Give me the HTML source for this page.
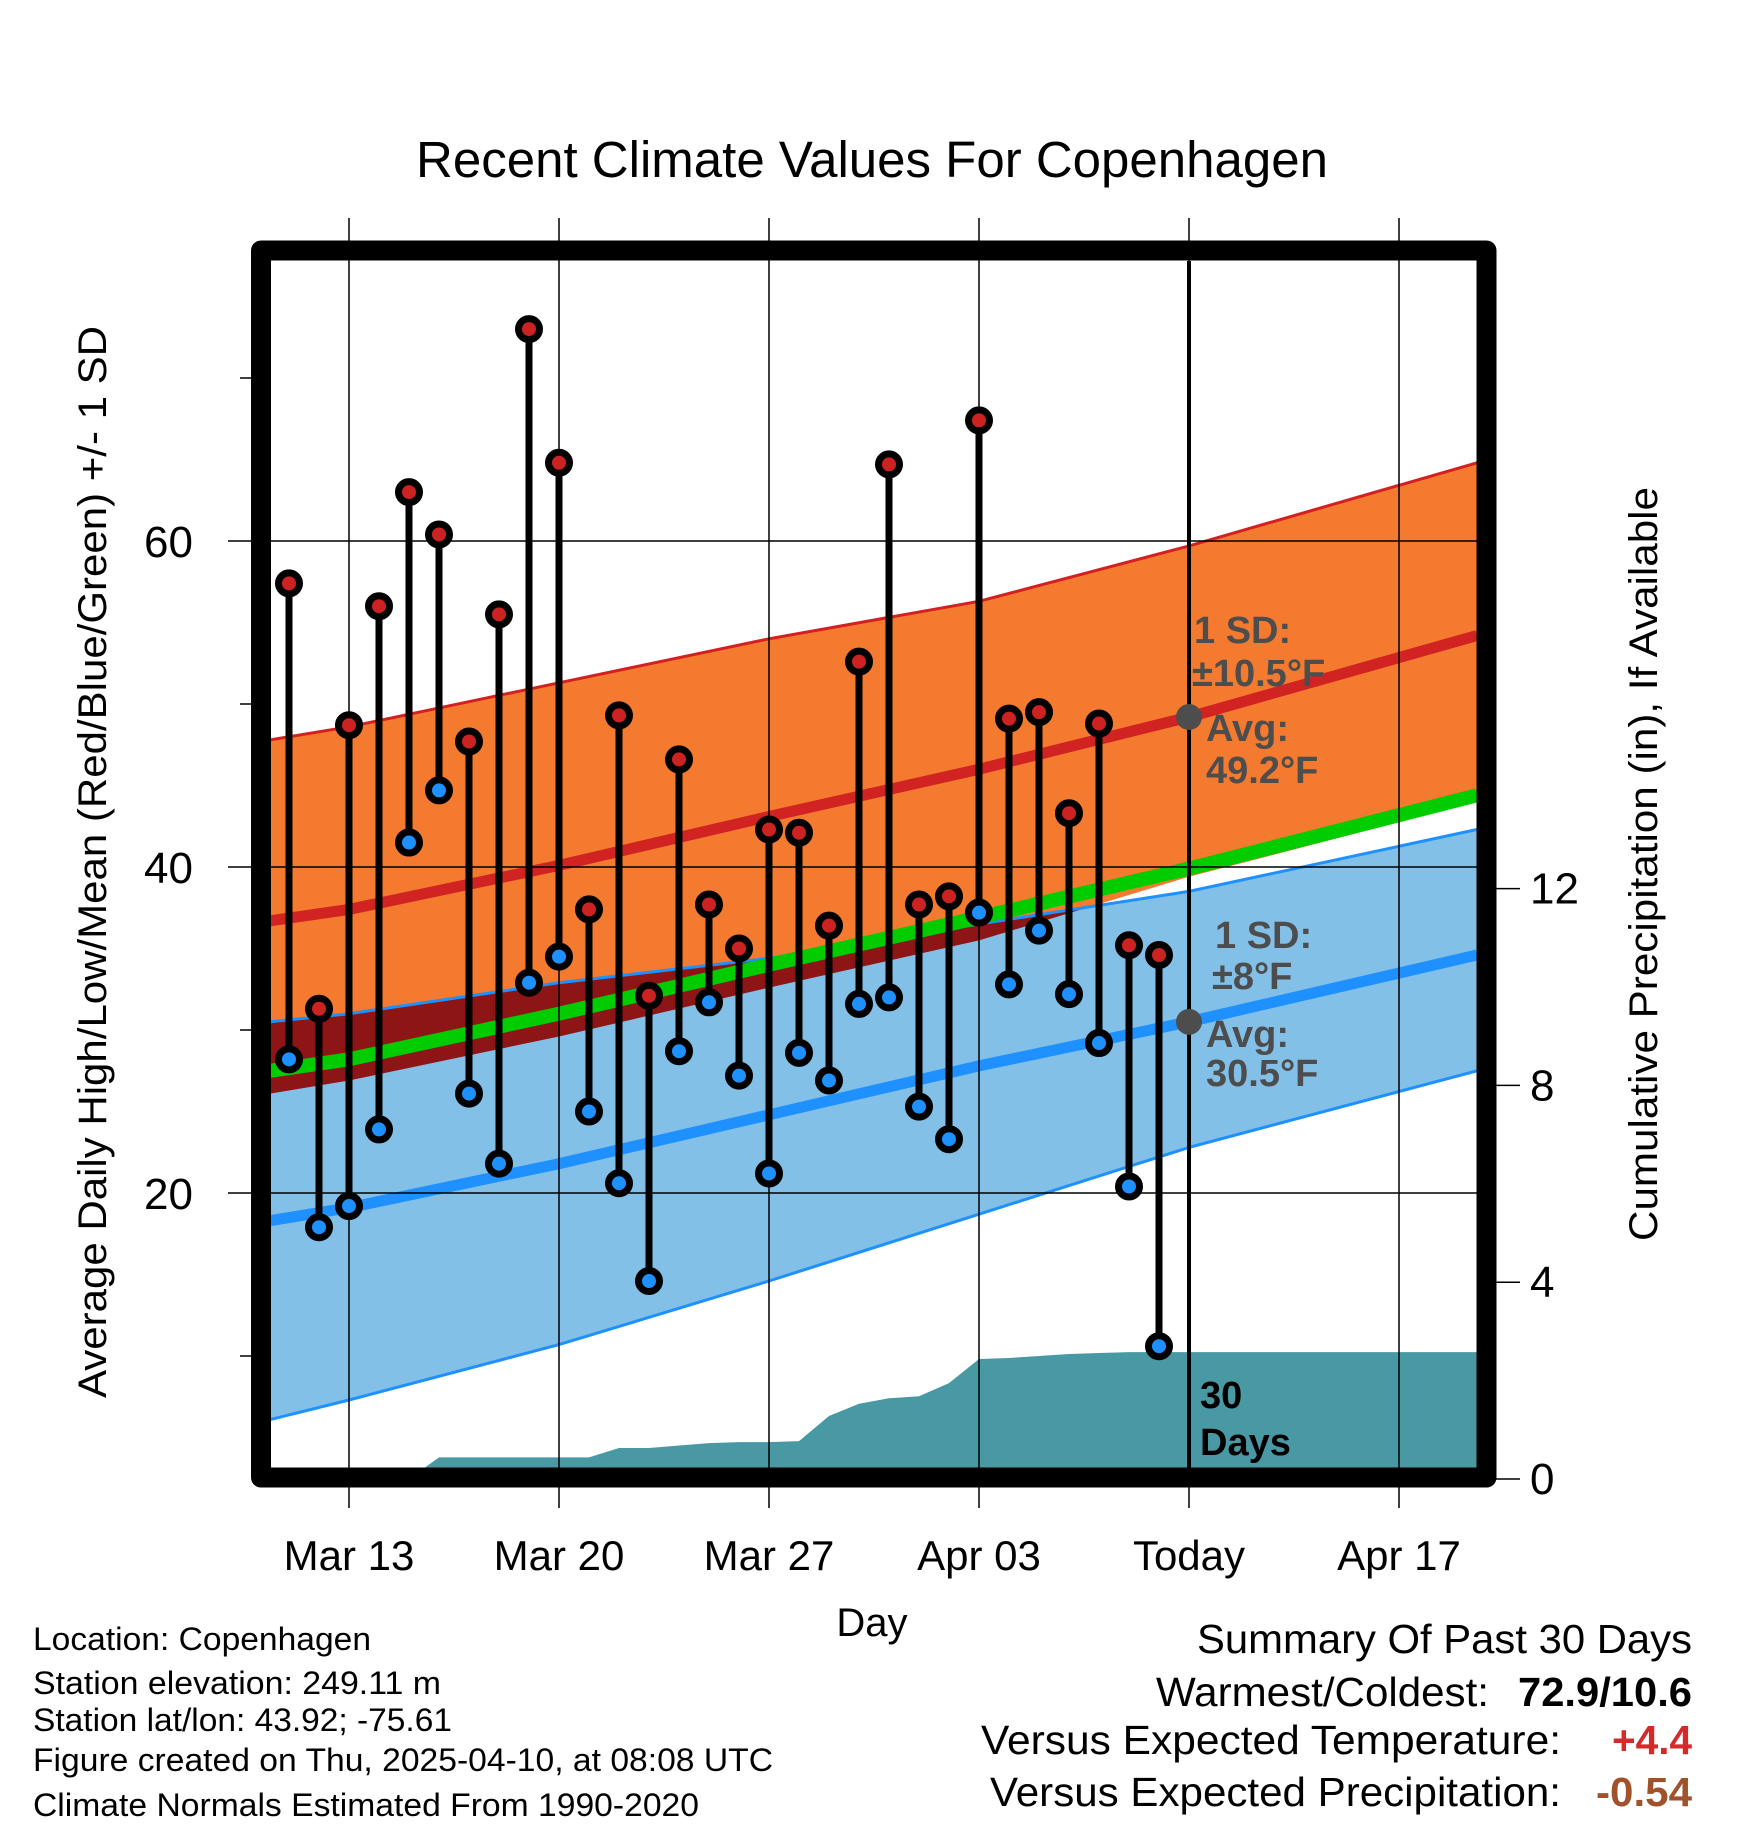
<!DOCTYPE html>
<html><head><meta charset="utf-8"><style>
html,body{margin:0;padding:0;background:#fff;}
svg{display:block;font-family:"Liberation Sans",Arial,sans-serif;}
</style></head><body>
<svg id="chart" width="1748" height="1828" viewBox="0 0 1748 1828" xmlns="http://www.w3.org/2000/svg">
<defs>
<clipPath id="plotClip"><rect x="270" y="261" width="1207" height="1207"/></clipPath>
<clipPath id="blueClip"><path id="blueClipPath" d=""/></clipPath>
</defs>
<g id="plot" clip-path="url(#plotClip)"></g>
<g id="axes"></g>
<text x="872" y="177" font-size="51" text-anchor="middle">Recent Climate Values For Copenhagen</text>
<text x="0" y="0" font-size="40" text-anchor="middle" transform="translate(106,862) rotate(-90)" textLength="1072" lengthAdjust="spacingAndGlyphs">Average Daily High/Low/Mean (Red/Blue/Green) +/- 1 SD</text>
<text x="0" y="0" font-size="40" text-anchor="middle" transform="translate(1657,864) rotate(-90)" textLength="754" lengthAdjust="spacingAndGlyphs">Cumulative Precipitation (in), If Available</text>
<text x="872" y="1636" font-size="40" text-anchor="middle">Day</text>
<g font-size="32">
<text x="33" y="1650" textLength="338" lengthAdjust="spacingAndGlyphs">Location: Copenhagen</text>
<text x="33" y="1694" textLength="408" lengthAdjust="spacingAndGlyphs">Station elevation: 249.11 m</text>
<text x="33" y="1731" textLength="419" lengthAdjust="spacingAndGlyphs">Station lat/lon: 43.92; -75.61</text>
<text x="33" y="1771" textLength="740" lengthAdjust="spacingAndGlyphs">Figure created on Thu, 2025-04-10, at 08:08 UTC</text>
<text x="33" y="1816" textLength="666" lengthAdjust="spacingAndGlyphs">Climate Normals Estimated From 1990-2020</text>
</g>
<g font-size="41">
<text x="1197" y="1653" textLength="495" lengthAdjust="spacingAndGlyphs">Summary Of Past 30 Days</text>
<text x="1156" y="1706" textLength="333" lengthAdjust="spacingAndGlyphs">Warmest/Coldest:</text>
<text x="1518" y="1706" font-weight="bold" textLength="174" lengthAdjust="spacingAndGlyphs">72.9/10.6</text>
<text x="981" y="1754" textLength="580" lengthAdjust="spacingAndGlyphs">Versus Expected Temperature:</text>
<text x="1612" y="1754" font-weight="bold" fill="#d42a2a" textLength="80" lengthAdjust="spacingAndGlyphs">+4.4</text>
<text x="990" y="1806" textLength="571" lengthAdjust="spacingAndGlyphs">Versus Expected Precipitation:</text>
<text x="1596" y="1806" font-weight="bold" fill="#a0522d" textLength="96" lengthAdjust="spacingAndGlyphs">-0.54</text>
</g>
<script>
// ---- data ----
const days = [-2,-1,0,1,2,3,4,5,6,7,8,9,10,11,12,13,14,15,16,17,18,19,20,21,22,23,24,25,26,27];
const highs = [57.4,31.3,48.7,56.0,63.0,60.4,47.7,55.5,73.0,64.8,37.4,49.3,32.1,46.6,37.7,35.0,42.3,42.1,36.4,52.6,64.7,37.7,38.2,67.4,49.1,49.5,43.3,48.8,35.2,34.6];
const lows = [28.2,17.9,19.2,23.9,41.5,44.7,26.1,21.8,32.9,34.5,25.0,20.6,14.6,28.7,31.7,27.2,21.2,28.6,26.9,31.6,32.0,25.3,23.3,37.2,32.8,36.1,32.2,29.2,20.4,10.6];
const precip = [0,0,0,0,0,0.44,0.44,0.44,0.44,0.44,0.44,0.63,0.63,0.68,0.73,0.75,0.75,0.77,1.28,1.53,1.64,1.68,1.95,2.44,2.46,2.50,2.54,2.56,2.58,2.58];
const normDays = [-2.63,0,7,14,21,28,37.6];
const hiAvg = [36.7,37.4,40.1,43.1,46.0,49.2,54.2];
const hiUp = [47.8,48.6,51.3,54.0,56.3,59.7,64.8];
const hiLo = [26.1,26.9,29.6,32.6,35.5,39.4,44.0];
const meanAvg = [27.5,28.2,31.0,34.0,36.9,39.9,44.4];
const loAvg = [18.3,19.1,21.8,24.8,27.8,30.5,34.6];
const loUp = [30.5,31.0,32.9,34.4,36.5,38.5,42.3];
const loLo = [6.1,7.3,10.7,14.6,18.7,22.8,27.5];
const xTickDays = [0,7,14,21,28,35];
const xTickLabels = ["Mar 13","Mar 20","Mar 27","Apr 03","Today","Apr 17"];
const yTicks = [20,40,60];
const yMinor = [10,30,50,70];
const pTicks = [0,4,8,12];
const todayDay = 28;

// ---- scales ----
const X0=270,X1=1477;
const xS = d => 349 + 30*d;
const yT = t => 1519 - 16.3*t;
const yP = p => 1479 - 49.2*p;
const NS='http://www.w3.org/2000/svg';
function mk(tag, attrs, parent){const e=document.createElementNS(NS,tag);for(const k in attrs)e.setAttribute(k,attrs[k]);parent.appendChild(e);return e;}
const plot=document.getElementById('plot');
const axes=document.getElementById('axes');
const line = arr => arr.map((v,i)=>(i?'L':'M')+xS(normDays[i]).toFixed(1)+','+yT(v).toFixed(1)).join('');
const band = (up,lo) => line(up)+lo.slice().reverse().map((v,j)=>{const i=lo.length-1-j;return 'L'+xS(normDays[i]).toFixed(1)+','+yT(v).toFixed(1);}).join('')+'Z';

let e;
e=mk('path',{d:band(hiUp,hiLo),fill:'#f47a30'},plot);


e=mk('path',{d:band(loUp,loLo),fill:'#82c0e8'},plot);


document.getElementById('blueClipPath').setAttribute('d',band(loUp,loLo));
e=mk('path',{d:band(hiUp,hiLo),fill:'#8e1515','clip-path':'url(#blueClip)'},plot);


e=mk('path',{d:line(hiUp),fill:'none',stroke:'#d42020','stroke-width':3},plot);


e=mk('path',{d:line(loUp),fill:'none',stroke:'#1e90ff','stroke-width':3},plot);


e=mk('path',{d:line(loLo),fill:'none',stroke:'#1e90ff','stroke-width':3},plot);


e=mk('path',{d:line(meanAvg),fill:'none',stroke:'#00cc00','stroke-width':14},plot);


e=mk('path',{d:line(hiAvg),fill:'none',stroke:'#d22323','stroke-width':11},plot);


e=mk('path',{d:line(loAvg),fill:'none',stroke:'#1e90ff','stroke-width':11},plot);



// precip area
let pd='M'+xS(days[0])+','+yP(0);
days.forEach((d,i)=>{pd+='L'+xS(d).toFixed(1)+','+yP(precip[i]).toFixed(1);});
pd+='L'+X1+','+yP(precip[precip.length-1]).toFixed(1)+'L'+X1+','+yP(0)+'Z';
e=mk('path',{d:pd,fill:'#4899a4'},plot);



// gridlines
yTicks.forEach(t=>{
  const g=mk('line',{x1:228,x2:X1,y1:yT(t),y2:yT(t),stroke:'#000','stroke-width':1.5},axes);
  
  
  const l=mk('text',{x:193,y:yT(t)+16,'font-size':44,'text-anchor':'end'},axes);
  l.textContent=t;
  
  
});
yMinor.forEach(t=>{
  const g=mk('line',{x1:240,x2:256,y1:yT(t),y2:yT(t),stroke:'#000','stroke-width':1.5},axes);
  
  
});
xTickDays.forEach((d,i)=>{
  const g=mk('line',{x1:xS(d),x2:xS(d),y1:218,y2:1508,stroke:'#000','stroke-width':1.5},axes);
  
  
  const l=mk('text',{x:xS(d),y:1570,'font-size':42,'text-anchor':'middle'},axes);
  l.textContent=xTickLabels[i];
  
  
});
pTicks.forEach(p=>{
  const g=mk('line',{x1:1486,x2:1520,y1:yP(p),y2:yP(p),stroke:'#000','stroke-width':1.5},axes);
  
  
  const l=mk('text',{x:1530,y:yP(p)+15,'font-size':44},axes);
  l.textContent=p;
  
  
});

// stems & points
days.forEach((d,i)=>{
  const x=xS(d);
  const s=mk('line',{x1:x,x2:x,y1:yT(highs[i]),y2:yT(lows[i]),stroke:'#000','stroke-width':7},axes);
  
  
});
days.forEach((d,i)=>{
  const x=xS(d);
  const h=mk('circle',{cx:x,cy:yT(highs[i]),r:10.5,fill:'#cc2222',stroke:'#000','stroke-width':7},axes);
  
  
  const l=mk('circle',{cx:x,cy:yT(lows[i]),r:10.5,fill:'#1e90ff',stroke:'#000','stroke-width':7},axes);
  
  
});

// today line
e=mk('line',{x1:xS(todayDay),x2:xS(todayDay),y1:261,y2:1477,stroke:'#000','stroke-width':4},axes);


e=mk('circle',{cx:xS(todayDay),cy:yT(hiAvg[5]),r:13,fill:'#4d4d4d'},axes);


e=mk('circle',{cx:xS(todayDay),cy:yT(loAvg[5]),r:13,fill:'#4d4d4d'},axes);



// frame
e=mk('rect',{x:261,y:250.5,width:1225.5,height:1227,fill:'none',stroke:'#000','stroke-width':20,'stroke-linejoin':'round'},axes);



// annotations
const ann=[
 ['1 SD:',1194,643,'#4d4d4d','high-sd-annotation'],
 ['±10.5°F',1192,686,'#4d4d4d','high-sd-value'],
 ['Avg:',1206,741,'#4d4d4d','high-avg-annotation'],
 ['49.2°F',1206,783,'#4d4d4d','high-avg-value'],
 ['1 SD:',1215,948,'#4d4d4d','low-sd-annotation'],
 ['±8°F',1212,989,'#4d4d4d','low-sd-value'],
 ['Avg:',1206,1047,'#4d4d4d','low-avg-annotation'],
 ['30.5°F',1206,1086,'#4d4d4d','low-avg-value'],
 ['30',1200,1408,'#000','days-count-annotation'],
 ['Days',1200,1455,'#000','days-label-annotation']
];
ann.forEach(a=>{
  const t=mk('text',{x:a[1],y:a[2],'font-size':38,'font-weight':'bold',fill:a[3]},axes);
  t.textContent=a[0];
  
  
});
</script>
</svg>
</body></html>
